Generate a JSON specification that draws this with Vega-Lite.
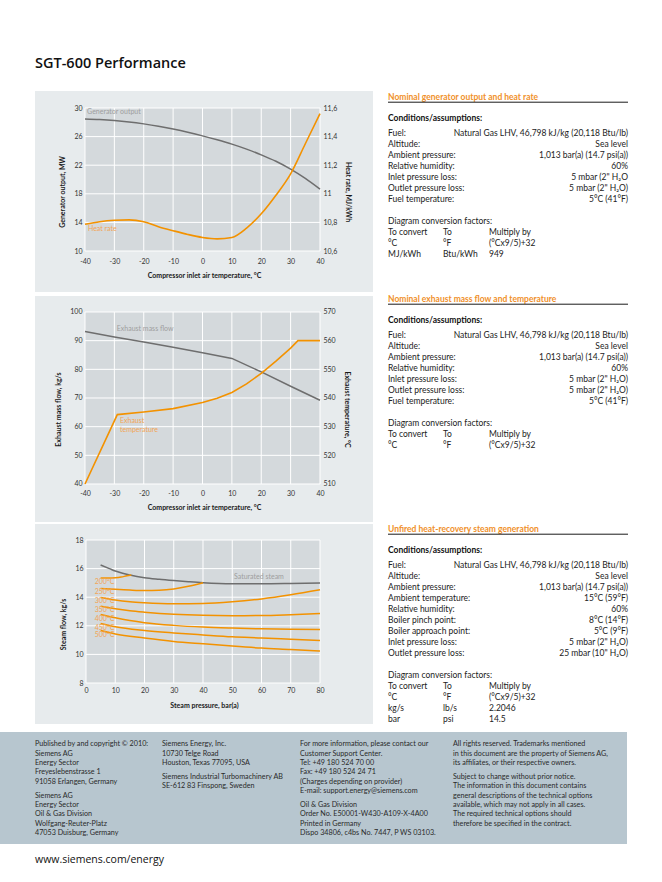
{
"$schema": "https://vega.github.io/schema/vega-lite/v6.json",
"background": "#ffffff",
"padding": {"left": 0, "top": 55, "right": 0, "bottom": 0},
"title": {"text": "SGT-600 Performance", "anchor": "start", "dx": 35, "offset": 20, "font": "Open Sans", "fontSize": 14.5, "fontWeight": 600, "color": "#111111"},
"datasets": {
"gen": [{"t":-40,"mw":28.45},{"t":-35,"mw":28.38},{"t":-30,"mw":28.25},{"t":-25,"mw":28.05},{"t":-20,"mw":27.78},{"t":-15,"mw":27.45},{"t":-10,"mw":27.05},{"t":-5,"mw":26.6},{"t":0,"mw":26.1},{"t":5,"mw":25.55},{"t":10,"mw":24.95},{"t":15,"mw":24.25},{"t":20,"mw":23.45},{"t":25,"mw":22.55},{"t":30,"mw":21.45},{"t":35,"mw":20.15},{"t":40,"mw":18.65}],
"hr": [{"t":-40,"hr":10.787},{"t":-35,"hr":10.805},{"t":-30,"hr":10.815},{"t":-25,"hr":10.818},{"t":-20,"hr":10.805},{"t":-15,"hr":10.77},{"t":-10,"hr":10.742},{"t":-5,"hr":10.716},{"t":0,"hr":10.695},{"t":5,"hr":10.685},{"t":10,"hr":10.695},{"t":15,"hr":10.76},{"t":20,"hr":10.86},{"t":25,"hr":10.99},{"t":30,"hr":11.14},{"t":35,"hr":11.35},{"t":40,"hr":11.56}],
"mf": [{"t":-40,"m":93.2},{"t":-30,"m":91.3},{"t":-20,"m":89.5},{"t":-10,"m":87.7},{"t":0,"m":85.8},{"t":10,"m":83.8},{"t":20,"m":79.1},{"t":30,"m":74.1},{"t":40,"m":69.2}],
"et": [{"t":-40,"e":510},{"t":-29,"e":534.2},{"t":-20,"e":535.1},{"t":-10,"e":536.3},{"t":0,"e":538.4},{"t":5,"e":539.9},{"t":10,"e":541.9},{"t":15,"e":544.9},{"t":20,"e":548.6},{"t":25,"e":552.9},{"t":30,"e":557.4},{"t":32.5,"e":560},{"t":40,"e":560}],
"steam": [
{"s":"Saturated steam","p":5,"f":16.25},{"s":"Saturated steam","p":8,"f":16.0},{"s":"Saturated steam","p":10,"f":15.83},{"s":"Saturated steam","p":15,"f":15.55},{"s":"Saturated steam","p":20,"f":15.36},{"s":"Saturated steam","p":25,"f":15.25},{"s":"Saturated steam","p":30,"f":15.16},{"s":"Saturated steam","p":35,"f":15.08},{"s":"Saturated steam","p":40,"f":15.01},{"s":"Saturated steam","p":50,"f":14.94},{"s":"Saturated steam","p":60,"f":14.94},{"s":"Saturated steam","p":70,"f":14.96},{"s":"Saturated steam","p":80,"f":14.99},
{"s":"200°C","p":5,"f":15.34},{"s":"200°C","p":8,"f":15.34},{"s":"200°C","p":10,"f":15.36},{"s":"200°C","p":12,"f":15.41},{"s":"200°C","p":14,"f":15.5},{"s":"200°C","p":15.5,"f":15.55},
{"s":"250°C","p":5,"f":14.61},{"s":"250°C","p":10,"f":14.55},{"s":"250°C","p":15,"f":14.5},{"s":"250°C","p":20,"f":14.47},{"s":"250°C","p":25,"f":14.49},{"s":"250°C","p":30,"f":14.58},{"s":"250°C","p":35,"f":14.76},{"s":"250°C","p":40,"f":15.01},
{"s":"300°C","p":5,"f":13.98},{"s":"300°C","p":10,"f":13.8},{"s":"300°C","p":15,"f":13.68},{"s":"300°C","p":20,"f":13.61},{"s":"300°C","p":30,"f":13.54},{"s":"300°C","p":40,"f":13.56},{"s":"300°C","p":50,"f":13.68},{"s":"300°C","p":60,"f":13.88},{"s":"300°C","p":70,"f":14.17},{"s":"300°C","p":80,"f":14.52},
{"s":"350°C","p":5,"f":13.37},{"s":"350°C","p":10,"f":13.19},{"s":"350°C","p":15,"f":13.05},{"s":"350°C","p":20,"f":12.95},{"s":"350°C","p":30,"f":12.8},{"s":"350°C","p":40,"f":12.73},{"s":"350°C","p":50,"f":12.71},{"s":"350°C","p":60,"f":12.72},{"s":"350°C","p":70,"f":12.78},{"s":"350°C","p":80,"f":12.86},
{"s":"400°C","p":5,"f":12.79},{"s":"400°C","p":10,"f":12.56},{"s":"400°C","p":15,"f":12.37},{"s":"400°C","p":20,"f":12.22},{"s":"400°C","p":30,"f":12.03},{"s":"400°C","p":40,"f":11.91},{"s":"400°C","p":50,"f":11.84},{"s":"400°C","p":60,"f":11.79},{"s":"400°C","p":70,"f":11.76},{"s":"400°C","p":80,"f":11.74},
{"s":"450°C","p":5,"f":12.16},{"s":"450°C","p":10,"f":11.93},{"s":"450°C","p":20,"f":11.67},{"s":"450°C","p":30,"f":11.5},{"s":"450°C","p":40,"f":11.36},{"s":"450°C","p":50,"f":11.23},{"s":"450°C","p":60,"f":11.15},{"s":"450°C","p":70,"f":11.06},{"s":"450°C","p":80,"f":10.97},
{"s":"500°C","p":5,"f":11.67},{"s":"500°C","p":10,"f":11.43},{"s":"500°C","p":20,"f":11.15},{"s":"500°C","p":30,"f":10.91},{"s":"500°C","p":40,"f":10.74},{"s":"500°C","p":50,"f":10.58},{"s":"500°C","p":60,"f":10.44},{"s":"500°C","p":70,"f":10.34},{"s":"500°C","p":80,"f":10.23}
],
"t1": [
{"line":-3.3,"col":"head","text":"Nominal generator output and heat rate"},
{"line":-1.38,"col":"cond","text":"Conditions/assumptions:"},
{"line":0,"col":"label","text":"Fuel:"},{"line":0,"col":"value","text":"Natural Gas LHV, 46,798 kJ/kg (20,118 Btu/lb)"},
{"line":1,"col":"label","text":"Altitude:"},{"line":1,"col":"value","text":"Sea level"},
{"line":2,"col":"label","text":"Ambient pressure:"},{"line":2,"col":"value","text":"1,013 bar(a) (14.7 psi(a))"},
{"line":3,"col":"label","text":"Relative humidity:"},{"line":3,"col":"value","text":"60%"},
{"line":4,"col":"label","text":"Inlet pressure loss:"},{"line":4,"col":"value","text":"5 mbar (2\" H₂O"},
{"line":5,"col":"label","text":"Outlet pressure loss:"},{"line":5,"col":"value","text":"5 mbar (2\" H₂O)"},
{"line":6,"col":"label","text":"Fuel temperature:"},{"line":6,"col":"value","text":"5°C (41°F)"},
{"line":8,"col":"label","text":"Diagram conversion factors:"},
{"line":9,"col":"label","text":"To convert"},{"line":9,"col":"to","text":"To"},{"line":9,"col":"mult","text":"Multiply by"},
{"line":10,"col":"label","text":"°C"},{"line":10,"col":"to","text":"°F"},{"line":10,"col":"mult","text":"(°Cx9/5)+32"},
{"line":11,"col":"label","text":"MJ/kWh"},{"line":11,"col":"to","text":"Btu/kWh"},{"line":11,"col":"mult","text":"949"}
],
"t2": [
{"line":-3.3,"col":"head","text":"Nominal exhaust mass flow and temperature"},
{"line":-1.38,"col":"cond","text":"Conditions/assumptions:"},
{"line":0,"col":"label","text":"Fuel:"},{"line":0,"col":"value","text":"Natural Gas LHV, 46,798 kJ/kg (20,118 Btu/lb)"},
{"line":1,"col":"label","text":"Altitude:"},{"line":1,"col":"value","text":"Sea level"},
{"line":2,"col":"label","text":"Ambient pressure:"},{"line":2,"col":"value","text":"1,013 bar(a) (14.7 psi(a))"},
{"line":3,"col":"label","text":"Relative humidity:"},{"line":3,"col":"value","text":"60%"},
{"line":4,"col":"label","text":"Inlet pressure loss:"},{"line":4,"col":"value","text":"5 mbar (2\" H₂O)"},
{"line":5,"col":"label","text":"Outlet pressure loss:"},{"line":5,"col":"value","text":"5 mbar (2\" H₂O)"},
{"line":6,"col":"label","text":"Fuel temperature:"},{"line":6,"col":"value","text":"5°C (41°F)"},
{"line":8,"col":"label","text":"Diagram conversion factors:"},
{"line":9,"col":"label","text":"To convert"},{"line":9,"col":"to","text":"To"},{"line":9,"col":"mult","text":"Multiply by"},
{"line":10,"col":"label","text":"°C"},{"line":10,"col":"to","text":"°F"},{"line":10,"col":"mult","text":"(°Cx9/5)+32"}
],
"t3": [
{"line":-3.3,"col":"head","text":"Unfired heat-recovery steam generation"},
{"line":-1.38,"col":"cond","text":"Conditions/assumptions:"},
{"line":0,"col":"label","text":"Fuel:"},{"line":0,"col":"value","text":"Natural Gas LHV, 46,798 kJ/kg (20,118 Btu/lb)"},
{"line":1,"col":"label","text":"Altitude:"},{"line":1,"col":"value","text":"Sea level"},
{"line":2,"col":"label","text":"Ambient pressure:"},{"line":2,"col":"value","text":"1,013 bar(a) (14.7 psi(a))"},
{"line":3,"col":"label","text":"Ambient temperature:"},{"line":3,"col":"value","text":"15°C (59°F)"},
{"line":4,"col":"label","text":"Relative humidity:"},{"line":4,"col":"value","text":"60%"},
{"line":5,"col":"label","text":"Boiler pinch point:"},{"line":5,"col":"value","text":"8°C (14°F)"},
{"line":6,"col":"label","text":"Boiler approach point:"},{"line":6,"col":"value","text":"5°C (9°F)"},
{"line":7,"col":"label","text":"Inlet pressure loss:"},{"line":7,"col":"value","text":"5 mbar (2\" H₂O)"},
{"line":8,"col":"label","text":"Outlet pressure loss:"},{"line":8,"col":"value","text":"25 mbar (10\" H₂O)"},
{"line":10,"col":"label","text":"Diagram conversion factors:"},
{"line":11,"col":"label","text":"To convert"},{"line":11,"col":"to","text":"To"},{"line":11,"col":"mult","text":"Multiply by"},
{"line":12,"col":"label","text":"°C"},{"line":12,"col":"to","text":"°F"},{"line":12,"col":"mult","text":"(°Cx9/5)+32"},
{"line":13,"col":"label","text":"kg/s"},{"line":13,"col":"to","text":"lb/s"},{"line":13,"col":"mult","text":"2.2046"},
{"line":14,"col":"label","text":"bar"},{"line":14,"col":"to","text":"psi"},{"line":14,"col":"mult","text":"14.5"}
],
"foot": [
{"line":0,"col":"a","text":"Published by and copyright © 2010:"},{"line":1,"col":"a","text":"Siemens AG"},{"line":2,"col":"a","text":"Energy Sector"},{"line":3,"col":"a","text":"Freyeslebenstrasse 1"},{"line":4,"col":"a","text":"91058 Erlangen, Germany"},
{"line":5.5,"col":"a","text":"Siemens AG"},{"line":6.5,"col":"a","text":"Energy Sector"},{"line":7.5,"col":"a","text":"Oil & Gas Division"},{"line":8.5,"col":"a","text":"Wolfgang-Reuter-Platz"},{"line":9.5,"col":"a","text":"47053 Duisburg, Germany"},
{"line":0,"col":"b","text":"Siemens Energy, Inc."},{"line":1,"col":"b","text":"10730 Telge Road"},{"line":2,"col":"b","text":"Houston, Texas 77095, USA"},
{"line":3.5,"col":"b","text":"Siemens Industrial Turbomachinery AB"},{"line":4.5,"col":"b","text":"SE-612 83 Finspong, Sweden"},
{"line":0,"col":"c","text":"For more information, please contact our"},{"line":1,"col":"c","text":"Customer Support Center."},{"line":2,"col":"c","text":"Tel:   +49 180 524 70 00"},{"line":3,"col":"c","text":"Fax: +49 180 524 24 71"},{"line":4,"col":"c","text":"(Charges depending on provider)"},{"line":5,"col":"c","text":"E-mail: support.energy@siemens.com"},
{"line":6.5,"col":"c","text":"Oil & Gas Division"},{"line":7.5,"col":"c","text":"Order No. E50001-W430-A109-X-4A00"},{"line":8.5,"col":"c","text":"Printed in Germany"},{"line":9.5,"col":"c","text":"Dispo 34806, c4bs No. 7447, P WS 03103."},
{"line":0,"col":"d","text":"All rights reserved. Trademarks mentioned"},{"line":1,"col":"d","text":"in this document are the property of Siemens AG,"},{"line":2,"col":"d","text":"its affiliates, or their respective owners."},
{"line":3.5,"col":"d","text":"Subject to change without prior notice."},{"line":4.5,"col":"d","text":"The information in this document contains"},{"line":5.5,"col":"d","text":"general descriptions of the technical options"},{"line":6.5,"col":"d","text":"available, which may not apply in all cases."},{"line":7.5,"col":"d","text":"The required technical options should"},{"line":8.5,"col":"d","text":"therefore be specified in the contract."}
]
},
"spacing": 8,
"vconcat": [
{"spacing": 14, "hconcat": [
 {"width": 21, "height": 1, "data": {"values": []}, "mark": "point", "encoding": {}},
 {"spacing": 2, "vconcat": [
  {"spacing": 14, "hconcat": [
   {"width": 338, "height": 201, "view": {"fill": "#e7ebed", "stroke": null},
    "layer": [
     {"layer": [
      {"data": {"values": [{}]}, "mark": {"type": "rect", "color": "#d4d9dc"},
       "encoding": {
        "x": {"datum": -40, "type": "quantitative", "scale": {"domain": [-57.021, 58.043], "nice": false, "zero": false},
              "axis": {"orient": "bottom", "offset": -41, "values": [-40,-30,-20,-10,0,10,20,30,40], "tickCount": 30, "labelExpr": "'' + datum.value", "labelPadding": 6, "titlePadding": 7, "title": "Compressor inlet air temperature, °C"}},
        "x2": {"datum": 40},
        "y": {"datum": 10, "type": "quantitative", "scale": {"domain": [4.266, 32.378], "nice": false, "zero": false},
              "axis": {"orient": "left", "offset": -50, "values": [10,14,18,22,26,30], "tickCount": 30, "labelExpr": "'' + datum.value", "labelPadding": 3, "titlePadding": 8, "title": "Generator output, MW"}},
        "y2": {"datum": 30}}},
      {"data": {"values": [{"v":-40},{"v":-30},{"v":-20},{"v":-10},{"v":0},{"v":10},{"v":20},{"v":30},{"v":40}]}, "mark": {"type": "rule", "color": "#ffffff", "strokeWidth": 1},
       "encoding": {"x": {"field": "v", "type": "quantitative", "title": "Compressor inlet air temperature, °C"}, "y": {"datum": 10}, "y2": {"datum": 30}}},
      {"data": {"values": [{"v":10},{"v":14},{"v":18},{"v":22},{"v":26},{"v":30}]}, "mark": {"type": "rule", "color": "#ffffff", "strokeWidth": 1},
       "encoding": {"y": {"field": "v", "type": "quantitative", "title": "Generator output, MW"}, "x": {"datum": -40}, "x2": {"datum": 40}}},
      {"data": {"name": "gen"}, "mark": {"type": "line", "color": "#6e6e6e", "strokeWidth": 1.5, "interpolate": "monotone"},
       "encoding": {"x": {"field": "t", "type": "quantitative", "title": "Compressor inlet air temperature, °C"}, "y": {"field": "mw", "type": "quantitative", "title": "Generator output, MW"}}},
      {"data": {"values": [{}]}, "mark": {"type": "text", "text": "Generator output", "align": "left", "baseline": "middle", "fontSize": 7, "color": "#9e9e9e"},
       "encoding": {"x": {"datum": -39.3}, "y": {"datum": 29.45}}},
      {"data": {"values": [{}]}, "mark": {"type": "text", "text": "Heat rate", "align": "left", "baseline": "middle", "fontSize": 7, "color": "#f2a555"},
       "encoding": {"x": {"datum": -39}, "y": {"datum": 13.1}}}
     ]},
     {"data": {"name": "hr"}, "mark": {"type": "line", "color": "#f39200", "strokeWidth": 1.6, "interpolate": "monotone"},
      "encoding": {"x": {"field": "t", "type": "quantitative", "title": "Compressor inlet air temperature, °C"},
       "y": {"field": "hr", "type": "quantitative", "scale": {"domain": [10.3133, 11.7189], "nice": false, "zero": false},
             "axis": {"orient": "right", "offset": -53, "values": [10.6,10.8,11,11.2,11.4,11.6], "tickCount": 30, "labelExpr": "replace('' + datum.value, '.', ',')", "labelPadding": 3, "titlePadding": 8, "title": "Heat rate, MJ/kWh"}}}}
    ],
    "resolve": {"scale": {"y": "independent"}, "axis": {"y": "independent"}}},
   {"width": 240, "height": 201, "data": {"name": "t1"},
    "layer": [
     {"transform": [{"filter": "datum.col == 'head'"}], "mark": {"type": "text", "align": "left", "baseline": "middle", "fontSize": 8.5, "fontWeight": "bold", "color": "#f0902a"},
      "encoding": {"x": {"datum": 0, "type": "quantitative", "scale": {"domain": [0, 240], "nice": false, "zero": false}, "axis": null}, "y": {"field": "line", "type": "quantitative", "scale": {"domain": [-3.818, 14.4545], "reverse": true, "nice": false, "zero": false}, "axis": null}, "text": {"field": "text"}}},
     {"data": {"values": [{}]}, "mark": {"type": "rule", "color": "#1a1a1a", "strokeWidth": 1},
      "encoding": {"x": {"datum": 0, "type": "quantitative", "axis": null}, "x2": {"datum": 240}, "y": {"datum": -2.8, "type": "quantitative", "axis": null}}},
     {"transform": [{"filter": "datum.col == 'cond'"}], "mark": {"type": "text", "align": "left", "baseline": "middle", "fontSize": 8.5, "fontWeight": "bold", "color": "#111111"},
      "encoding": {"x": {"datum": 0, "type": "quantitative", "axis": null}, "y": {"field": "line", "type": "quantitative", "axis": null}, "text": {"field": "text"}}},
     {"transform": [{"filter": "datum.col == 'label'"}], "mark": {"type": "text", "align": "left", "baseline": "middle", "fontSize": 8.5, "color": "#222222"},
      "encoding": {"x": {"datum": 0, "type": "quantitative", "axis": null}, "y": {"field": "line", "type": "quantitative", "axis": null}, "text": {"field": "text"}}},
     {"transform": [{"filter": "datum.col == 'to'"}], "mark": {"type": "text", "align": "left", "baseline": "middle", "fontSize": 8.5, "color": "#222222"},
      "encoding": {"x": {"datum": 55, "type": "quantitative", "axis": null}, "y": {"field": "line", "type": "quantitative", "axis": null}, "text": {"field": "text"}}},
     {"transform": [{"filter": "datum.col == 'mult'"}], "mark": {"type": "text", "align": "left", "baseline": "middle", "fontSize": 8.5, "color": "#222222"},
      "encoding": {"x": {"datum": 101, "type": "quantitative", "axis": null}, "y": {"field": "line", "type": "quantitative", "axis": null}, "text": {"field": "text"}}},
     {"transform": [{"filter": "datum.col == 'value'"}], "mark": {"type": "text", "align": "right", "baseline": "middle", "fontSize": 8.5, "color": "#222222"},
      "encoding": {"x": {"datum": 240, "type": "quantitative", "axis": null}, "y": {"field": "line", "type": "quantitative", "axis": null}, "text": {"field": "text"}}}
    ]}
  ]},
  {"spacing": 14, "hconcat": [
   {"width": 338, "height": 226, "view": {"fill": "#e7ebed", "stroke": null},
    "layer": [
     {"layer": [
      {"data": {"values": [{}]}, "mark": {"type": "rect", "color": "#d4d9dc"},
       "encoding": {
        "x": {"datum": -40, "type": "quantitative", "scale": {"domain": [-57.021, 58.043], "nice": false, "zero": false},
              "axis": {"orient": "bottom", "offset": -38, "values": [-40,-30,-20,-10,0,10,20,30,40], "tickCount": 30, "labelExpr": "'' + datum.value", "labelPadding": 5, "titlePadding": 7, "title": "Compressor inlet air temperature, °C"}},
        "x2": {"datum": 40},
        "y": {"datum": 40, "type": "quantitative", "scale": {"domain": [26.744, 105.581], "nice": false, "zero": false},
              "axis": {"orient": "left", "offset": -50, "values": [40,50,60,70,80,90,100], "tickCount": 30, "labelExpr": "'' + datum.value", "labelPadding": 3, "titlePadding": 8, "title": "Exhaust mass flow, kg/s"}},
        "y2": {"datum": 100}}},
      {"data": {"values": [{"v":-40},{"v":-30},{"v":-20},{"v":-10},{"v":0},{"v":10},{"v":20},{"v":30},{"v":40}]}, "mark": {"type": "rule", "color": "#ffffff", "strokeWidth": 1},
       "encoding": {"x": {"field": "v", "type": "quantitative", "title": "Compressor inlet air temperature, °C"}, "y": {"datum": 40}, "y2": {"datum": 100}}},
      {"data": {"values": [{"v":40},{"v":50},{"v":60},{"v":70},{"v":80},{"v":90},{"v":100}]}, "mark": {"type": "rule", "color": "#ffffff", "strokeWidth": 1},
       "encoding": {"y": {"field": "v", "type": "quantitative", "title": "Exhaust mass flow, kg/s"}, "x": {"datum": -40}, "x2": {"datum": 40}}},
      {"data": {"name": "mf"}, "mark": {"type": "line", "color": "#6e6e6e", "strokeWidth": 1.5},
       "encoding": {"x": {"field": "t", "type": "quantitative", "title": "Compressor inlet air temperature, °C"}, "y": {"field": "m", "type": "quantitative", "title": "Exhaust mass flow, kg/s"}}},
      {"data": {"values": [{}]}, "mark": {"type": "text", "text": "Exhaust mass flow", "align": "left", "baseline": "middle", "fontSize": 7, "color": "#9e9e9e"},
       "encoding": {"x": {"datum": -29.2}, "y": {"datum": 94}}},
      {"data": {"values": [{}]}, "mark": {"type": "text", "text": "Exhaust", "align": "left", "baseline": "middle", "fontSize": 7, "color": "#f2a555"},
       "encoding": {"x": {"datum": -28.1}, "y": {"datum": 62}}},
      {"data": {"values": [{}]}, "mark": {"type": "text", "text": "temperature", "align": "left", "baseline": "middle", "fontSize": 7, "color": "#f2a555"},
       "encoding": {"x": {"datum": -28.1}, "y": {"datum": 58.8}}}
     ]},
     {"data": {"name": "et"}, "mark": {"type": "line", "color": "#f39200", "strokeWidth": 1.6},
      "encoding": {"x": {"field": "t", "type": "quantitative", "title": "Compressor inlet air temperature, °C"},
       "y": {"field": "e", "type": "quantitative", "scale": {"domain": [496.744, 575.581], "nice": false, "zero": false},
             "axis": {"orient": "right", "offset": -53, "values": [510,520,530,540,550,560,570], "tickCount": 30, "labelExpr": "'' + datum.value", "labelPadding": 3, "titlePadding": 8, "title": "Exhaust temperature, °C"}}}}
    ],
    "resolve": {"scale": {"y": "independent"}, "axis": {"y": "independent"}}},
   {"width": 240, "height": 226, "data": {"name": "t2"},
    "layer": [
     {"transform": [{"filter": "datum.col == 'head'"}], "mark": {"type": "text", "align": "left", "baseline": "middle", "fontSize": 8.5, "fontWeight": "bold", "color": "#f0902a"},
      "encoding": {"x": {"datum": 0, "type": "quantitative", "scale": {"domain": [0, 240], "nice": false, "zero": false}, "axis": null}, "y": {"field": "line", "type": "quantitative", "scale": {"domain": [-3.5455, 17.0], "reverse": true, "nice": false, "zero": false}, "axis": null}, "text": {"field": "text"}}},
     {"data": {"values": [{}]}, "mark": {"type": "rule", "color": "#1a1a1a", "strokeWidth": 1},
      "encoding": {"x": {"datum": 0, "type": "quantitative", "axis": null}, "x2": {"datum": 240}, "y": {"datum": -2.8, "type": "quantitative", "axis": null}}},
     {"transform": [{"filter": "datum.col == 'cond'"}], "mark": {"type": "text", "align": "left", "baseline": "middle", "fontSize": 8.5, "fontWeight": "bold", "color": "#111111"},
      "encoding": {"x": {"datum": 0, "type": "quantitative", "axis": null}, "y": {"field": "line", "type": "quantitative", "axis": null}, "text": {"field": "text"}}},
     {"transform": [{"filter": "datum.col == 'label'"}], "mark": {"type": "text", "align": "left", "baseline": "middle", "fontSize": 8.5, "color": "#222222"},
      "encoding": {"x": {"datum": 0, "type": "quantitative", "axis": null}, "y": {"field": "line", "type": "quantitative", "axis": null}, "text": {"field": "text"}}},
     {"transform": [{"filter": "datum.col == 'to'"}], "mark": {"type": "text", "align": "left", "baseline": "middle", "fontSize": 8.5, "color": "#222222"},
      "encoding": {"x": {"datum": 55, "type": "quantitative", "axis": null}, "y": {"field": "line", "type": "quantitative", "axis": null}, "text": {"field": "text"}}},
     {"transform": [{"filter": "datum.col == 'mult'"}], "mark": {"type": "text", "align": "left", "baseline": "middle", "fontSize": 8.5, "color": "#222222"},
      "encoding": {"x": {"datum": 101, "type": "quantitative", "axis": null}, "y": {"field": "line", "type": "quantitative", "axis": null}, "text": {"field": "text"}}},
     {"transform": [{"filter": "datum.col == 'value'"}], "mark": {"type": "text", "align": "right", "baseline": "middle", "fontSize": 8.5, "color": "#222222"},
      "encoding": {"x": {"datum": 240, "type": "quantitative", "axis": null}, "y": {"field": "line", "type": "quantitative", "axis": null}, "text": {"field": "text"}}}
    ]}
  ]},
  {"spacing": 14, "hconcat": [
   {"width": 338, "height": 200, "view": {"fill": "#e7ebed", "stroke": null},
    "layer": [
     {"data": {"values": [{}]}, "mark": {"type": "rect", "color": "#d4d9dc"},
      "encoding": {
       "x": {"datum": 0, "type": "quantitative", "scale": {"domain": [-17.436, 98.12], "nice": false, "zero": false},
             "axis": {"orient": "bottom", "offset": -41, "values": [0,10,20,30,40,50,60,70,80], "tickCount": 30, "labelExpr": "'' + datum.value", "labelPadding": 3, "titlePadding": 8, "title": "Steam pressure, bar(a)"}},
       "x2": {"datum": 80},
       "y": {"datum": 8, "type": "quantitative", "scale": {"domain": [5.133, 19.119], "nice": false, "zero": false},
             "axis": {"orient": "left", "offset": -51, "values": [8,10,12,14,16,18], "tickCount": 30, "labelExpr": "'' + datum.value", "labelPadding": 3, "titlePadding": 8, "title": "Steam flow, kg/s"}},
       "y2": {"datum": 18}}},
     {"data": {"values": [{"v":0},{"v":10},{"v":20},{"v":30},{"v":40},{"v":50},{"v":60},{"v":70},{"v":80}]}, "mark": {"type": "rule", "color": "#ffffff", "strokeWidth": 1},
      "encoding": {"x": {"field": "v", "type": "quantitative", "title": "Steam pressure, bar(a)"}, "y": {"datum": 8}, "y2": {"datum": 18}}},
     {"data": {"values": [{"v":8},{"v":10},{"v":12},{"v":14},{"v":16},{"v":18}]}, "mark": {"type": "rule", "color": "#ffffff", "strokeWidth": 1},
      "encoding": {"y": {"field": "v", "type": "quantitative", "title": "Steam flow, kg/s"}, "x": {"datum": 0}, "x2": {"datum": 80}}},
     {"data": {"name": "steam"}, "mark": {"type": "line", "strokeWidth": 1.5, "interpolate": "monotone"},
      "encoding": {"x": {"field": "p", "type": "quantitative", "title": "Steam pressure, bar(a)"}, "y": {"field": "f", "type": "quantitative", "title": "Steam flow, kg/s"},
       "color": {"field": "s", "type": "nominal", "legend": null, "scale": {"domain": ["Saturated steam","200°C","250°C","300°C","350°C","400°C","450°C","500°C"], "range": ["#6e6e6e","#f39200","#f39200","#f39200","#f39200","#f39200","#f39200","#f39200"]}}}},
     {"data": {"name": "steam"}, "transform": [{"filter": "datum.p == 5 && datum.s != 'Saturated steam'"}],
      "mark": {"type": "text", "align": "left", "baseline": "middle", "dx": -6, "dy": 4, "fontSize": 7, "color": "#f2a555"},
      "encoding": {"x": {"field": "p", "type": "quantitative", "title": "Steam pressure, bar(a)"}, "y": {"field": "f", "type": "quantitative", "title": "Steam flow, kg/s"}, "text": {"field": "s"}}},
     {"data": {"values": [{}]}, "mark": {"type": "text", "text": "Saturated steam", "align": "left", "baseline": "middle", "fontSize": 7, "color": "#9e9e9e"},
      "encoding": {"x": {"datum": 50.6}, "y": {"datum": 15.41}}}
    ]},
   {"width": 240, "height": 200, "data": {"name": "t3"},
    "layer": [
     {"transform": [{"filter": "datum.col == 'head'"}], "mark": {"type": "text", "align": "left", "baseline": "middle", "fontSize": 8.5, "fontWeight": "bold", "color": "#f0902a"},
      "encoding": {"x": {"datum": 0, "type": "quantitative", "scale": {"domain": [0, 240], "nice": false, "zero": false}, "axis": null}, "y": {"field": "line", "type": "quantitative", "scale": {"domain": [-3.7273, 14.4545], "reverse": true, "nice": false, "zero": false}, "axis": null}, "text": {"field": "text"}}},
     {"data": {"values": [{}]}, "mark": {"type": "rule", "color": "#1a1a1a", "strokeWidth": 1},
      "encoding": {"x": {"datum": 0, "type": "quantitative", "axis": null}, "x2": {"datum": 240}, "y": {"datum": -2.8, "type": "quantitative", "axis": null}}},
     {"transform": [{"filter": "datum.col == 'cond'"}], "mark": {"type": "text", "align": "left", "baseline": "middle", "fontSize": 8.5, "fontWeight": "bold", "color": "#111111"},
      "encoding": {"x": {"datum": 0, "type": "quantitative", "axis": null}, "y": {"field": "line", "type": "quantitative", "axis": null}, "text": {"field": "text"}}},
     {"transform": [{"filter": "datum.col == 'label'"}], "mark": {"type": "text", "align": "left", "baseline": "middle", "fontSize": 8.5, "color": "#222222"},
      "encoding": {"x": {"datum": 0, "type": "quantitative", "axis": null}, "y": {"field": "line", "type": "quantitative", "axis": null}, "text": {"field": "text"}}},
     {"transform": [{"filter": "datum.col == 'to'"}], "mark": {"type": "text", "align": "left", "baseline": "middle", "fontSize": 8.5, "color": "#222222"},
      "encoding": {"x": {"datum": 55, "type": "quantitative", "axis": null}, "y": {"field": "line", "type": "quantitative", "axis": null}, "text": {"field": "text"}}},
     {"transform": [{"filter": "datum.col == 'mult'"}], "mark": {"type": "text", "align": "left", "baseline": "middle", "fontSize": 8.5, "color": "#222222"},
      "encoding": {"x": {"datum": 101, "type": "quantitative", "axis": null}, "y": {"field": "line", "type": "quantitative", "axis": null}, "text": {"field": "text"}}},
     {"transform": [{"filter": "datum.col == 'value'"}], "mark": {"type": "text", "align": "right", "baseline": "middle", "fontSize": 8.5, "color": "#222222"},
      "encoding": {"x": {"datum": 240, "type": "quantitative", "axis": null}, "y": {"field": "line", "type": "quantitative", "axis": null}, "text": {"field": "text"}}}
    ]}
  ]}
 ]}
]},
{"width": 627, "height": 112, "view": {"fill": "#b7c6cf", "stroke": null}, "data": {"name": "foot"},
 "layer": [
  {"transform": [{"filter": "datum.col == 'a'"}], "mark": {"type": "text", "align": "left", "baseline": "middle", "fontSize": 7.2, "color": "#2a2a2a"},
   "encoding": {"x": {"datum": 35, "type": "quantitative", "scale": {"domain": [0, 627], "nice": false, "zero": false}, "axis": null}, "y": {"field": "line", "type": "quantitative", "scale": {"domain": [-1.344, 10.699], "reverse": true, "nice": false, "zero": false}, "axis": null}, "text": {"field": "text"}}},
  {"transform": [{"filter": "datum.col == 'b'"}], "mark": {"type": "text", "align": "left", "baseline": "middle", "fontSize": 7.2, "color": "#2a2a2a"},
   "encoding": {"x": {"datum": 162, "type": "quantitative", "axis": null}, "y": {"field": "line", "type": "quantitative", "axis": null}, "text": {"field": "text"}}},
  {"transform": [{"filter": "datum.col == 'c'"}], "mark": {"type": "text", "align": "left", "baseline": "middle", "fontSize": 7.2, "color": "#2a2a2a"},
   "encoding": {"x": {"datum": 300, "type": "quantitative", "axis": null}, "y": {"field": "line", "type": "quantitative", "axis": null}, "text": {"field": "text"}}},
  {"transform": [{"filter": "datum.col == 'd'"}], "mark": {"type": "text", "align": "left", "baseline": "middle", "fontSize": 7.2, "color": "#2a2a2a"},
   "encoding": {"x": {"datum": 453, "type": "quantitative", "axis": null}, "y": {"field": "line", "type": "quantitative", "axis": null}, "text": {"field": "text"}}}
 ]},
{"width": 627, "height": 16, "data": {"values": [{}]},
 "mark": {"type": "text", "text": "www.siemens.com/energy", "font": "Open Sans", "fontSize": 10.5, "align": "left", "baseline": "middle", "color": "#111111"},
 "encoding": {"x": {"datum": 35, "type": "quantitative", "scale": {"domain": [0, 627], "nice": false, "zero": false}, "axis": null},
  "y": {"datum": 0.5, "type": "quantitative", "scale": {"domain": [0, 1], "nice": false, "zero": false}, "axis": null}}}
],
"config": {
 "font": "Lato",
 "view": {"stroke": null},
 "text": {"font": "Lato"},
 "axis": {"domain": false, "ticks": false, "grid": false, "labelOverlap": false, "labelFont": "Lato", "labelFontSize": 7, "labelColor": "#333333", "titleFont": "Lato", "titleFontSize": 7, "titleFontWeight": "bold", "titleColor": "#1a1a1a"}
}
}
